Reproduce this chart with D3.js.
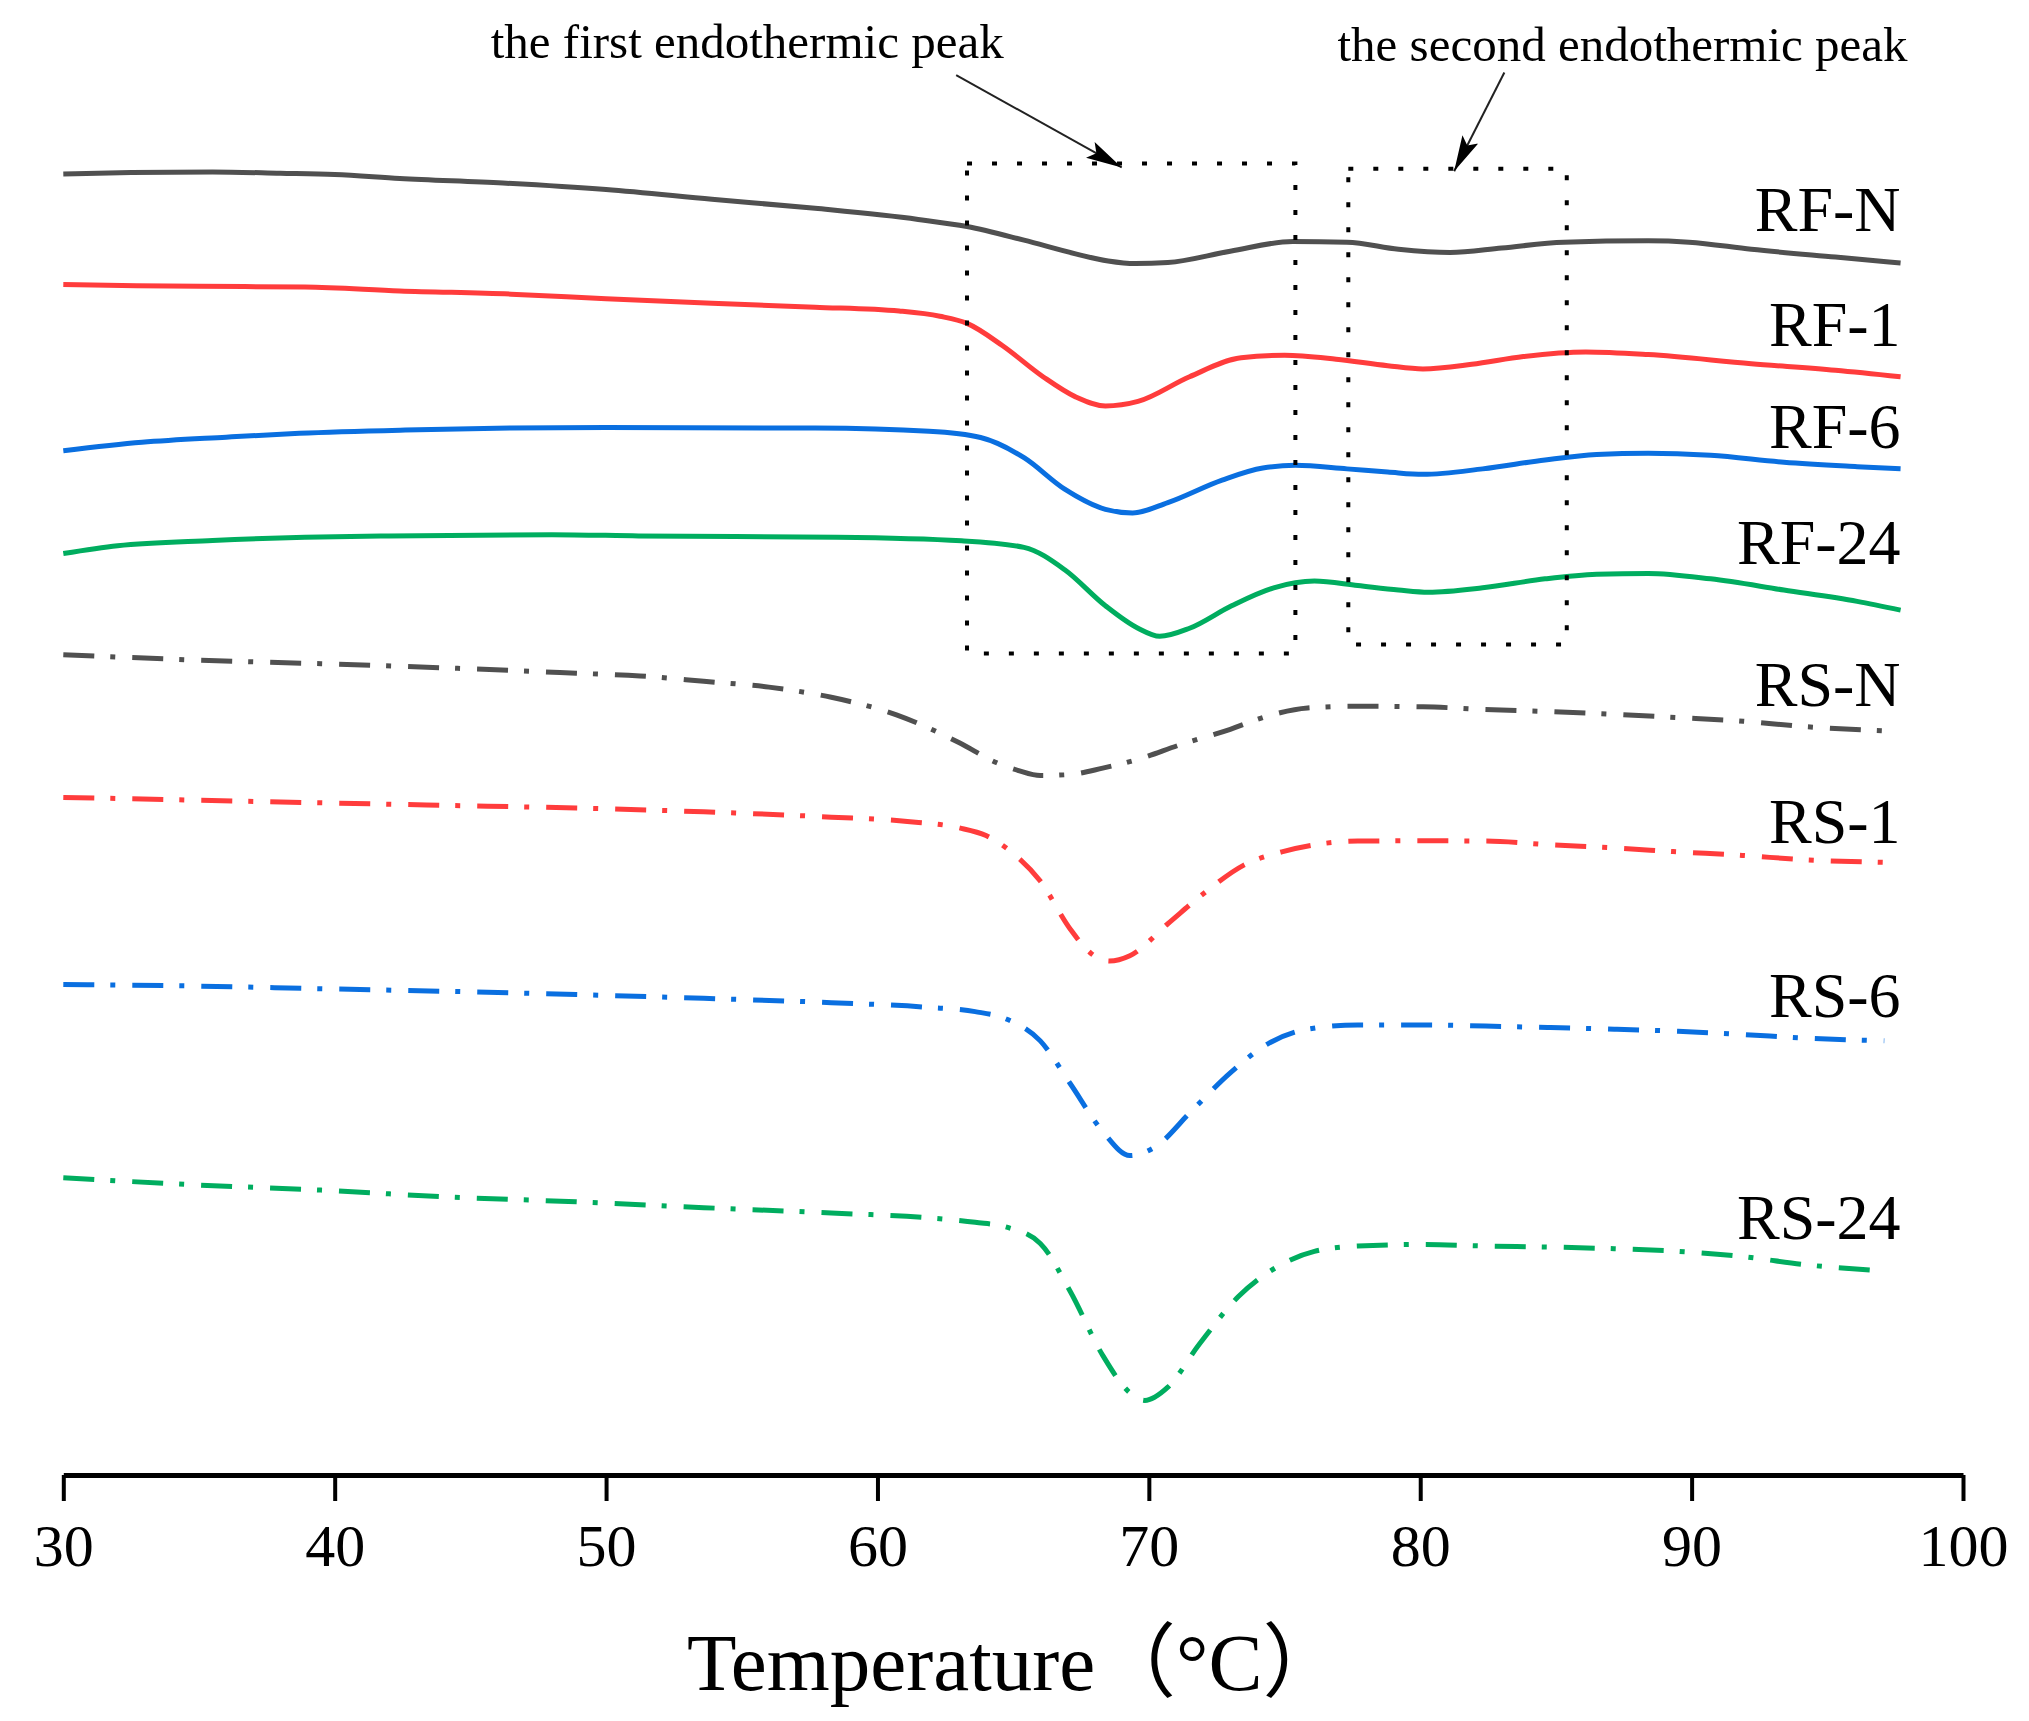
<!DOCTYPE html>
<html>
<head>
    <meta charset="utf-8">
    <title>DSC curves</title>
    <script src="https://d3js.org/d3.v7.min.js"></script>
    <style>
        body { margin: 0; background: #fff; }
        svg { display: block; }
    </style>
</head>
<body>
    <svg id="chart" width="2029" height="1721"></svg>

    <script>
        // temperature (°C), heat flow (arbitrary offset units)
        const rfN = [[30, 99.7], [32.5, 99.8], [35.5, 99.85], [38, 99.75], [40, 99.65], [42.4, 99.35], [46.2, 99.0], [50, 98.5], [53.9, 97.75], [57.7, 97.05], [61.5, 96.2], [63.3, 95.65], [65.4, 94.6], [67.3, 93.55], [68.5, 93.0], [69.5, 92.8], [70.7, 92.88], [73, 93.75], [75.3, 94.5], [77.3, 94.45], [79.2, 93.9], [81.1, 93.65], [83, 94.0], [85.3, 94.45], [88.4, 94.55], [89.9, 94.45], [92.2, 93.9], [95.3, 93.3], [97.7, 92.85]];
        const rf1 = [[30, 91.2], [32.7, 91.1], [35, 91.05], [38.9, 91.0], [42.4, 90.7], [46.5, 90.45], [50, 90.1], [53.9, 89.75], [57.7, 89.45], [60.8, 89.15], [62.3, 88.75], [63.3, 88.2], [64.6, 86.5], [66.1, 84.1], [67.3, 82.55], [68.4, 81.85], [69.6, 82.2], [71.5, 84.1], [73.4, 85.55], [75, 85.75], [76.9, 85.45], [78.8, 84.95], [80.1, 84.7], [81.9, 85.05], [83.8, 85.65], [86.1, 86.0], [88.4, 85.8], [92.2, 85.1], [95.3, 84.6], [97.7, 84.1]];
        const rf6 = [[30, 78.4], [32.9, 79.05], [36, 79.45], [38.7, 79.75], [42.6, 80.0], [46.5, 80.15], [50, 80.2], [57.7, 80.15], [61.9, 79.9], [63.8, 79.42], [65.4, 77.87], [66.9, 75.45], [68.4, 73.9], [69.4, 73.62], [70.7, 74.42], [72.7, 76.15], [74.2, 77.08], [75.4, 77.28], [77.3, 77.01], [78.8, 76.77], [80.1, 76.59], [82.3, 77.01], [84.6, 77.7], [86.5, 78.12], [88.4, 78.22], [90.7, 78.05], [93.4, 77.52], [96.1, 77.18], [97.7, 77.01]];
        const rf24 = [[30, 70.5], [32, 71.1], [35.5, 71.5], [38.9, 71.75], [42, 71.85], [48, 71.95], [51.2, 71.85], [58.5, 71.75], [63.1, 71.48], [65.4, 70.97], [66.9, 69.25], [68.4, 66.48], [69.6, 64.75], [70.4, 64.13], [71.5, 64.75], [73.05, 66.48], [74.6, 67.86], [76.1, 68.38], [77.7, 68.03], [79.2, 67.69], [80.3, 67.52], [82.3, 67.86], [84.6, 68.55], [86.5, 68.9], [88.4, 68.97], [90.7, 68.55], [93.4, 67.69], [96.1, 66.82], [97.7, 66.14]];
        const rsN = [[30, 62.72], [34.8, 62.31], [39.5, 62.02], [44.2, 61.69], [48.9, 61.29], [51.25, 61.08], [53.6, 60.67], [56, 60.22], [58.3, 59.44], [60.7, 58.09], [63, 55.96], [64.4, 54.4], [65.2, 53.8], [66, 53.42], [67.1, 53.5], [68.3, 53.99], [69.7, 54.73], [71.1, 55.75], [73, 56.98], [74.4, 58.01], [75.85, 58.62], [77.7, 58.75], [80.1, 58.71], [82.4, 58.5], [84.8, 58.34], [87.15, 58.13], [89.5, 57.88], [91.9, 57.6], [94.2, 57.18], [97.1, 56.86]];
        const rs1 = [[30, 51.74], [34.8, 51.53], [39.5, 51.32], [44.2, 51.12], [48.9, 50.92], [53.6, 50.63], [58.3, 50.22], [61.1, 49.89], [63, 49.4], [64, 48.8], [64.8, 47.76], [66, 45.3], [67.1, 41.62], [67.85, 39.77], [68.55, 39.15], [69.3, 39.56], [70.7, 42.02], [72.1, 44.48], [73.5, 46.53], [74.9, 47.55], [76.1, 48.09], [77.7, 48.38], [80.1, 48.4], [82.4, 48.38], [84.8, 48.09], [87.15, 47.85], [89.5, 47.55], [91.9, 47.27], [94.2, 46.94], [97.1, 46.74]];
        const rs6 = [[30, 37.35], [34.8, 37.23], [39.5, 37.02], [44.2, 36.82], [48.9, 36.57], [53.6, 36.28], [58.3, 35.95], [61.85, 35.59], [63.6, 35.26], [64.8, 34.65], [66, 33.01], [67.1, 29.73], [68.3, 26.04], [69.3, 24.19], [70.2, 24.81], [71.6, 27.68], [73, 30.55], [74.4, 32.8], [75.85, 33.91], [77.7, 34.24], [80.1, 34.24], [82.4, 34.15], [84.8, 34.03], [87.15, 33.91], [89.5, 33.75], [91.9, 33.5], [94.2, 33.22], [97.1, 33.01]];
        const rs24 = [[30, 22.48], [34.8, 21.94], [39.5, 21.53], [44.2, 21.0], [48.9, 20.63], [53.6, 20.18], [58.3, 19.77], [61.85, 19.4], [63.6, 19.05], [64.8, 18.66], [66, 17.43], [67.1, 13.75], [68.3, 8.82], [69.3, 5.95], [69.85, 5.35], [70.7, 6.37], [71.85, 9.65], [73.3, 13.34], [74.7, 15.59], [76.1, 16.82], [77.7, 17.23], [80.1, 17.35], [82.4, 17.23], [84.8, 17.15], [87.15, 17.02], [89.5, 16.82], [91.9, 16.41], [94.2, 15.79], [97.1, 15.3]];

        const seriesNames = ['RF-N', 'RF-1', 'RF-6', 'RF-24', 'RS-N', 'RS-1', 'RS-6', 'RS-24'];
        const seriesData = [rfN, rf1, rf6, rf24, rsN, rs1, rs6, rs24];
        // heat-flow level where each name sits (its baseline)
        const labelLevels = [95.3, 86.5, 78.6, 69.7, 58.8, 48.25, 34.85, 17.8];

        const xTicks = [30, 40, 50, 60, 70, 80, 90, 100];
        const xTitle = 'Temperature（°C）';

        // dotted boxes round the two peaks: [tMin, tMax, lower, upper]
        const peakBoxes = [[63.3, 75.4, 62.8, 100.5], [77.35, 85.4, 63.5, 100.1]];
        const peakNotes = ['the first endothermic peak', 'the second endothermic peak'];
        const noteAnchors = [[45.75, 108.6], [76.95, 108.4]];
        const noteArrows = [[[62.9, 107.3], [69.0, 100.2]], [[83.1, 107.5], [81.25, 99.9]]];

        const colors = ['#505050', '#ff3c3c', '#0a6fe0', '#00ad5f'];
        const serif = "'Liberation Serif', 'Times New Roman', 'Noto Sans CJK SC', serif";

        const svg = d3.select('#chart');
        const x = d3.scaleLinear().domain([30, 100]).range([63.3, 1963]);
        const y = d3.scaleLinear().domain([0, 100]).range([1470, 170]);
        const axisY = 1475;

        svg.append('rect').attr('width', 2029).attr('height', 1721).attr('fill', '#fff');

        const defs = svg.append('defs');
        defs.append('marker')
            .attr('id', 'arrowhead')
            .attr('markerUnits', 'userSpaceOnUse')
            .attr('viewBox', '0 0 36 18')
            .attr('refX', 36).attr('refY', 9)
            .attr('markerWidth', 36).attr('markerHeight', 18)
            .attr('orient', 'auto')
            .append('path')
            .attr('d', 'M0,0 L36,9 L0,18 L7,9 Z')
            .attr('fill', '#000');

        // curves
        const line = d3.line()
            .x(d => x(d[0]))
            .y(d => y(d[1]))
            .curve(d3.curveMonotoneX);

        seriesData.forEach((data, i) => {
            svg.append('path')
                .datum(data)
                .attr('d', line)
                .attr('fill', 'none')
                .attr('stroke', colors[i % 4])
                .attr('stroke-width', 5)
                .attr('stroke-dasharray', i < 4 ? null : '31 16 5 17');

            svg.append('text')
                .attr('x', x(97.7))
                .attr('y', y(labelLevels[i]))
                .attr('text-anchor', 'end')
                .attr('font-family', serif)
                .attr('font-size', 64)
                .attr('fill', '#000')
                .text(seriesNames[i]);
        });

        // peak boxes
        peakBoxes.forEach(b => {
            svg.append('rect')
                .attr('x', x(b[0]))
                .attr('y', y(b[3]))
                .attr('width', x(b[1]) - x(b[0]))
                .attr('height', y(b[2]) - y(b[3]))
                .attr('fill', 'none')
                .attr('stroke', '#000')
                .attr('stroke-width', 4)
                .attr('stroke-dasharray', '5 20');
        });

        // notes and arrows
        peakNotes.forEach((note, i) => {
            svg.append('text')
                .attr('x', x(noteAnchors[i][0]))
                .attr('y', y(noteAnchors[i][1]))
                .attr('font-family', serif)
                .attr('font-size', 49)
                .attr('fill', '#000')
                .text(note);

            const a = noteArrows[i];
            svg.append('line')
                .attr('x1', x(a[0][0])).attr('y1', y(a[0][1]))
                .attr('x2', x(a[1][0])).attr('y2', y(a[1][1]))
                .attr('stroke', '#222')
                .attr('stroke-width', 2)
                .attr('marker-end', 'url(#arrowhead)');
        });

        // x axis
        const axis = svg.append('g')
            .attr('transform', `translate(0,${axisY})`)
            .call(d3.axisBottom(x).tickValues(xTicks).tickSize(26).tickSizeOuter(0).tickPadding(22));

        axis.select('.domain').attr('stroke', '#000').attr('stroke-width', 5);
        axis.selectAll('.tick line').attr('stroke', '#000').attr('stroke-width', 4);
        axis.selectAll('.tick text')
            .attr('font-family', serif)
            .attr('font-size', 60)
            .attr('fill', '#000');

        svg.append('text')
            .attr('x', 687)
            .attr('y', 1690)
            .attr('font-family', serif)
            .attr('font-size', 81)
            .attr('fill', '#000')
            .text(xTitle);
    </script>
</body>
</html>
